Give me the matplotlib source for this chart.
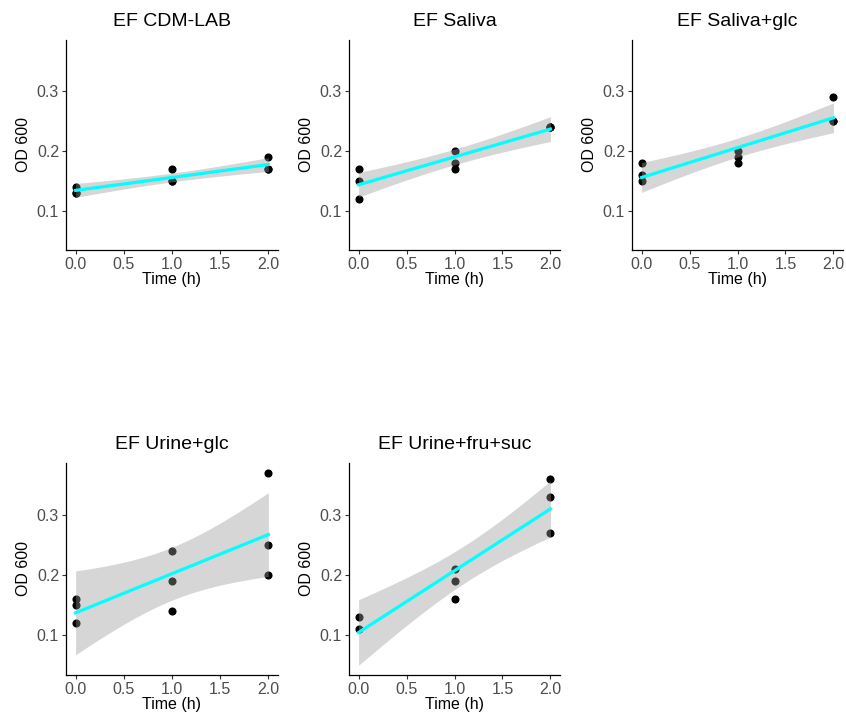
import numpy as np
import matplotlib
matplotlib.use('Agg')
import matplotlib.pyplot as plt

plt.rcParams['font.family'] = ['Liberation Sans', 'DejaVu Sans']

titles = ['EF CDM-LAB', 'EF Saliva', 'EF Saliva+glc', 'EF Urine+glc', 'EF Urine+fru+suc']

# measurement times (h) and OD600 per medium
time_std = [0, 0, 0, 1, 1, 1, 2, 2, 2]
time_fru = [0, 0, 1, 1, 1, 2, 2, 2]

od_cdm_lab = [0.14, 0.13, 0.13, 0.17, 0.15, 0.15, 0.19, 0.17, 0.17]
od_saliva = [0.17, 0.15, 0.12, 0.20, 0.18, 0.17, 0.24, 0.24, 0.24]
od_saliva_glc = [0.18, 0.16, 0.15, 0.20, 0.19, 0.18, 0.29, 0.25, 0.25]
od_urine_glc = [0.16, 0.15, 0.12, 0.24, 0.19, 0.14, 0.37, 0.25, 0.20]
od_urine_fru_suc = [0.13, 0.11, 0.21, 0.19, 0.16, 0.36, 0.33, 0.27]

times = [time_std, time_std, time_std, time_std, time_fru]
series = [od_cdm_lab, od_saliva, od_saliva_glc, od_urine_glc, od_urine_fru_suc]

# panel boxes in pixels: left, right, top, bottom
boxes = [(66, 278, 40, 250), (349, 560, 40, 250), (632, 843, 40, 250),
         (66, 278, 463, 675), (349, 560, 463, 675)]

W, H = 846, 722
fig = plt.figure(figsize=(W / 100, H / 100), dpi=100)

# t(0.975, df)
T_CRIT = {6: 2.4469, 7: 2.3646}


def lm_band(x, y, xs):
    x = np.asarray(x, float)
    y = np.asarray(y, float)
    n = len(x)
    b, a = np.polyfit(x, y, 1)
    resid = y - (a + b * x)
    s = np.sqrt(np.sum(resid ** 2) / (n - 2))
    sxx = np.sum((x - x.mean()) ** 2)
    se = s * np.sqrt(1 / n + (xs - x.mean()) ** 2 / sxx)
    fit = a + b * xs
    tc = T_CRIT[n - 2]
    return fit, fit - tc * se, fit + tc * se


for title, x, y, (l, r, t, bt) in zip(titles, times, series, boxes):
    ax = fig.add_axes([l / W, 1 - bt / H, (r - l) / W, (bt - t) / H])
    ax.scatter(x, y, s=34, color='black', zorder=2, linewidths=0)
    xs = np.linspace(min(x), max(x), 80)
    fit, lo, hi = lm_band(x, y, xs)
    ax.fill_between(xs, lo, hi, color='#999999', alpha=0.4, linewidth=0, zorder=3)
    ax.plot(xs, fit, color='#00FFFF', lw=2.3, zorder=4)

    ax.set_xlim(-0.1, 2.1)
    ax.set_ylim(0.034, 0.386)
    ax.set_xticks([0, 0.5, 1.0, 1.5, 2.0])
    ax.set_xticklabels(['0.0', '0.5', '1.0', '1.5', '2.0'])
    ax.set_yticks([0.1, 0.2, 0.3])
    ax.set_yticklabels(['0.1', '0.2', '0.3'])
    for side in ['top', 'right']:
        ax.spines[side].set_visible(False)
    for side in ['left', 'bottom']:
        ax.spines[side].set_color('black')
        ax.spines[side].set_linewidth(0.9)
    ax.tick_params(length=3, width=0.8, color='#333333', labelcolor='#4D4D4D',
                   labelsize=11.5, pad=2)
    ax.set_xlabel('Time (h)', fontsize=11.5, labelpad=0)
    ax.set_ylabel('OD 600', fontsize=11.5, labelpad=4)
    ax.set_title(title, fontsize=14, pad=10)

fig.savefig('out.png', dpi=100, facecolor='white')
